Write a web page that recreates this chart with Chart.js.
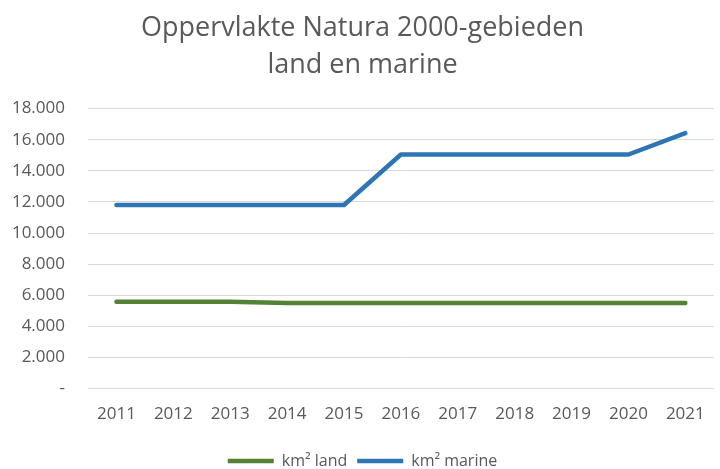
<!DOCTYPE html>
<html>
<head>
<meta charset="utf-8">
<script src="https://cdn.jsdelivr.net/npm/chart.js@4/dist/chart.umd.min.js"></script>
<style>
html,body{margin:0;padding:0;background:#fff;}
#wrap{width:720px;height:469px;position:relative;}
</style>
</head>
<body>
<div id="wrap"><canvas id="c" width="720" height="469"></canvas></div>
<script>
const years = ['2011','2012','2013','2014','2015','2016','2017','2018','2019','2020','2021'];
const landKm2 = [5580, 5580, 5580, 5500, 5500, 5500, 5500, 5500, 5500, 5500, 5500];
const marineKm2 = [11800, 11800, 11800, 11800, 11800, 15050, 15050, 15050, 15050, 15050, 16420];
const titleLines = ['Oppervlakte Natura 2000-gebieden', 'land en marine'];

const txt = '#595959';
const font = "'Open Sans', 'Liberation Sans', sans-serif";

new Chart(document.getElementById('c'), {
  type: 'line',
  data: {
    labels: years,
    datasets: [
      { label: 'km² land', data: landKm2, borderColor: '#548235', backgroundColor: '#548235',
        borderWidth: 4.5, pointRadius: 0, tension: 0, borderCapStyle: 'round', borderJoinStyle: 'round' },
      { label: 'km² marine', data: marineKm2, borderColor: '#2E75B6', backgroundColor: '#2E75B6',
        borderWidth: 4.5, pointRadius: 0, tension: 0, borderCapStyle: 'round', borderJoinStyle: 'round' }
    ]
  },
  options: {
    responsive: false,
    animation: false,
    layout: { padding: { left: 10, right: 5, top: 9, bottom: -10 } },
    plugins: {
      title: { display: true, text: titleLines, color: txt,
        font: { family: font, size: 27, weight: 'normal', lineHeight: 1.4 }, padding: { top: 0, bottom: 24 } },
      legend: { position: 'bottom', labels: { color: txt, usePointStyle: true, pointStyle: 'line',
        pointStyleWidth: 46, font: { family: font, size: 16 }, padding: 10 } },
      tooltip: { enabled: false }
    },
    scales: {
      x: {
        offset: true,
        afterFit: s => { s.height += 4; },
        grid: { display: false, drawTicks: false },
        border: { display: true, color: '#d9d9d9' },
        ticks: { color: txt, font: { family: font, size: 17 }, padding: 15 }
      },
      y: {
        min: 0, max: 18000,
        afterFit: s => { s.width = 78; },
        grid: { color: '#d9d9d9', drawTicks: false, lineWidth: 1 },
        border: { display: false },
        ticks: { stepSize: 2000, color: txt, font: { family: font, size: 17 }, padding: 23,
          callback: v => v === 0 ? '-' : v.toLocaleString('de-DE') }
      }
    }
  }
});
</script>
</body>
</html>
